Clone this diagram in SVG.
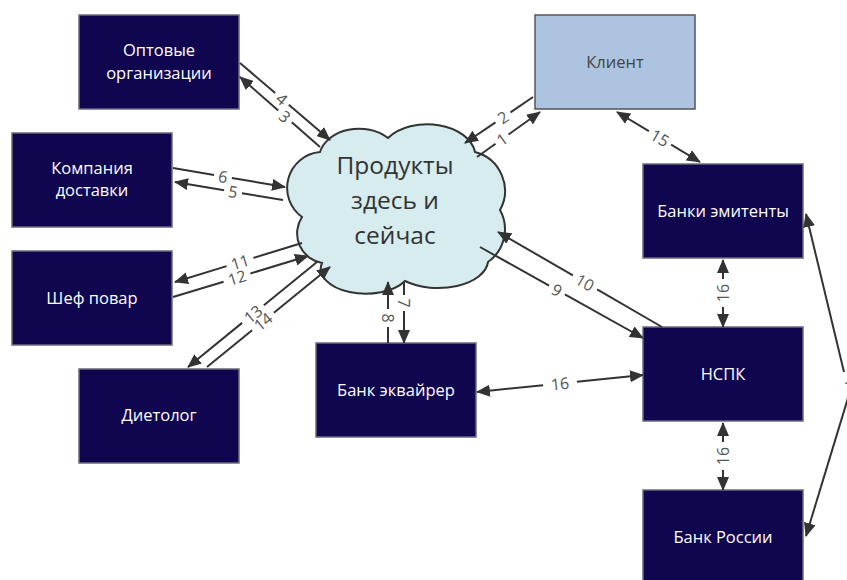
<svg xmlns="http://www.w3.org/2000/svg" width="847" height="580" viewBox="0 0 847 580">
<style>
.box{fill:#10054f;stroke:#6b6b7a;stroke-width:1.5}
.client{fill:#adc4e0;stroke:#555;stroke-width:1.5}
.bt{font-family:"Open Sans","Noto Sans",sans-serif;font-size:16.5px;fill:#fff;text-anchor:middle}
.ct{font-family:"Open Sans","Noto Sans",sans-serif;font-size:16.5px;fill:#444;text-anchor:middle}
.cloudt{font-family:"Open Sans","Noto Sans",sans-serif;font-size:24.5px;fill:#333;text-anchor:middle}
.ln{fill:none;stroke:#333;stroke-width:2}
.lb{font-family:"Open Sans","Noto Sans",sans-serif;font-size:16px;fill:#555;text-anchor:middle;dominant-baseline:central}
</style>
<defs>
<marker id="ah" viewBox="0 0 14 12" refX="13" refY="6" markerWidth="14" markerHeight="12" markerUnits="userSpaceOnUse" orient="auto-start-reverse"><path d="M0,0 L14,6 L0,12 z" fill="#333"/></marker>
</defs>

<g id="cloud">
<path d="M320,152 A40,30 0 0 1 388,138 A48,32 0 0 1 475,152 A40,40 0 0 1 500,210 A40,40 0 0 1 488,262 A50,28 0 0 1 405,281 A45,25 0 0 1 322,263 A30,30 0 0 1 302,217 A36,36 0 0 1 320,152 Z" fill="#d6ecef" stroke="#333" stroke-width="2"/>
<text class="cloudt" x="395" y="174">Продукты</text>
<text class="cloudt" x="395" y="209">здесь и</text>
<text class="cloudt" x="395" y="244">сейчас</text>
</g>

<g id="n-opt"><rect class="box" x="79" y="15" width="160" height="94"/><text class="bt" x="159" y="56">Оптовые</text><text class="bt" x="159" y="79">организации</text></g>
<g id="n-dost"><rect class="box" x="12" y="133" width="160" height="94"/><text class="bt" x="92" y="174">Компания</text><text class="bt" x="92" y="196">доставки</text></g>
<g id="n-shef"><rect class="box" x="12" y="251" width="160" height="94"/><text class="bt" x="92" y="304">Шеф повар</text></g>
<g id="n-diet"><rect class="box" x="79" y="369" width="160" height="94"/><text class="bt" x="159" y="421">Диетолог</text></g>
<g id="n-ekv"><rect class="box" x="316" y="343" width="160" height="94"/><text class="bt" x="396" y="396">Банк эквайрер</text></g>
<g id="n-client"><rect class="client" x="535" y="15" width="160" height="94"/><text class="ct" x="615" y="68">Клиент</text></g>
<g id="n-emit"><rect class="box" x="643" y="164" width="160" height="94"/><text class="bt" x="723" y="217">Банки эмитенты</text></g>
<g id="n-nspk"><rect class="box" x="643" y="327" width="160" height="94"/><text class="bt" x="723" y="380">НСПК</text></g>
<g id="n-cbr"><rect class="box" x="643" y="490" width="160" height="94"/><text class="bt" x="723" y="543">Банк России</text></g>

<g id="connectors">
<path class="ln" d="M240,63 L275.2,93.1"/><path class="ln" d="M288.8,104.7 L330,140" marker-end="url(#ah)"/>
<text class="lb" transform="translate(282,98.9) rotate(40.5)">4</text>
<path class="ln" d="M320,147 L291.8,122.3"/><path class="ln" d="M278.2,110.5 L240,77" marker-end="url(#ah)"/>
<text class="lb" transform="translate(285,116.4) rotate(41)">3</text>
<path class="ln" d="M533,97 L510.5,112.3"/><path class="ln" d="M495.5,122.3 L465,143" marker-end="url(#ah)"/>
<text class="lb" transform="translate(503,117.3) rotate(-34)">2</text>
<path class="ln" d="M477,157 L495.5,143.7"/><path class="ln" d="M508.5,134.5 L540,112" marker-end="url(#ah)"/>
<text class="lb" transform="translate(502,139.1) rotate(-35.5)">1</text>
<path class="ln" d="M173,168 L214.1,175"/><path class="ln" d="M231.9,178 L285,187" marker-end="url(#ah)"/>
<text class="lb" transform="translate(223,176.5) rotate(9.6)">6</text>
<path class="ln" d="M283,200 L241.9,193.2"/><path class="ln" d="M224.1,190.2 L175,182" marker-end="url(#ah)"/>
<text class="lb" transform="translate(233,191.7) rotate(9.5)">5</text>
<path class="ln" d="M302,243 L253.4,257.9"/><path class="ln" d="M226.6,266.1 L175,282" marker-end="url(#ah)"/>
<text class="lb" transform="translate(240,262) rotate(-17)">11</text>
<path class="ln" d="M173,297 L223.6,281.7"/><path class="ln" d="M250.4,273.5 L308,256" marker-end="url(#ah)"/>
<text class="lb" transform="translate(237,277.6) rotate(-17)">12</text>
<path class="ln" d="M317,262 L263.9,305.3"/><path class="ln" d="M242.1,322.9 L188,367" marker-end="url(#ah)"/>
<text class="lb" transform="translate(253,314.1) rotate(-39)">13</text>
<path class="ln" d="M207,367 L252.1,330.3"/><path class="ln" d="M273.9,312.7 L330,267" marker-end="url(#ah)"/>
<text class="lb" transform="translate(263,321.5) rotate(-39)">14</text>
<path class="ln" d="M388,343 L388,327"/><path class="ln" d="M388,309 L388,282" marker-end="url(#ah)"/>
<text class="lb" transform="translate(388,318) rotate(90)">8</text>
<path class="ln" d="M404,282 L404,295"/><path class="ln" d="M404,311 L404,343" marker-end="url(#ah)"/>
<text class="lb" transform="translate(404,303) rotate(90)">7</text>
<path class="ln" d="M480,247 L549.1,285.6"/><path class="ln" d="M564.9,294.4 L643,338" marker-end="url(#ah)"/>
<text class="lb" transform="translate(557,290) rotate(29)">9</text>
<path class="ln" d="M662,327 L597.1,289.4"/><path class="ln" d="M572.9,275.4 L498,232" marker-end="url(#ah)"/>
<text class="lb" transform="translate(585,282.4) rotate(30)">10</text>
<path class="ln" d="M617,112 L648.9,131.2" marker-start="url(#ah)"/><path class="ln" d="M671.1,144.6 L700,162" marker-end="url(#ah)"/>
<text class="lb" transform="translate(660,137.9) rotate(31)">15</text>
<path class="ln" d="M477,392 L543.1,385.2" marker-start="url(#ah)"/><path class="ln" d="M576.9,381.8 L643,375" marker-end="url(#ah)"/>
<text class="lb" transform="translate(560,383.5) rotate(-5.8)">16</text>
<path class="ln" d="M723,260 L723,279" marker-start="url(#ah)"/><path class="ln" d="M723,307 L723,327" marker-end="url(#ah)"/>
<text class="lb" transform="translate(723,293) rotate(-90)">16</text>
<path class="ln" d="M723,423 L723,442" marker-start="url(#ah)"/><path class="ln" d="M723,470 L723,490" marker-end="url(#ah)"/>
<text class="lb" transform="translate(723,456) rotate(-90)">16</text>
<path class="ln" d="M844,372 L806,214" marker-end="url(#ah)"/><path class="ln" d="M848,398 L806,536" marker-end="url(#ah)"/>
<text class="lb" transform="translate(852,386) rotate(76.5)">17</text>
</g>
</svg>
